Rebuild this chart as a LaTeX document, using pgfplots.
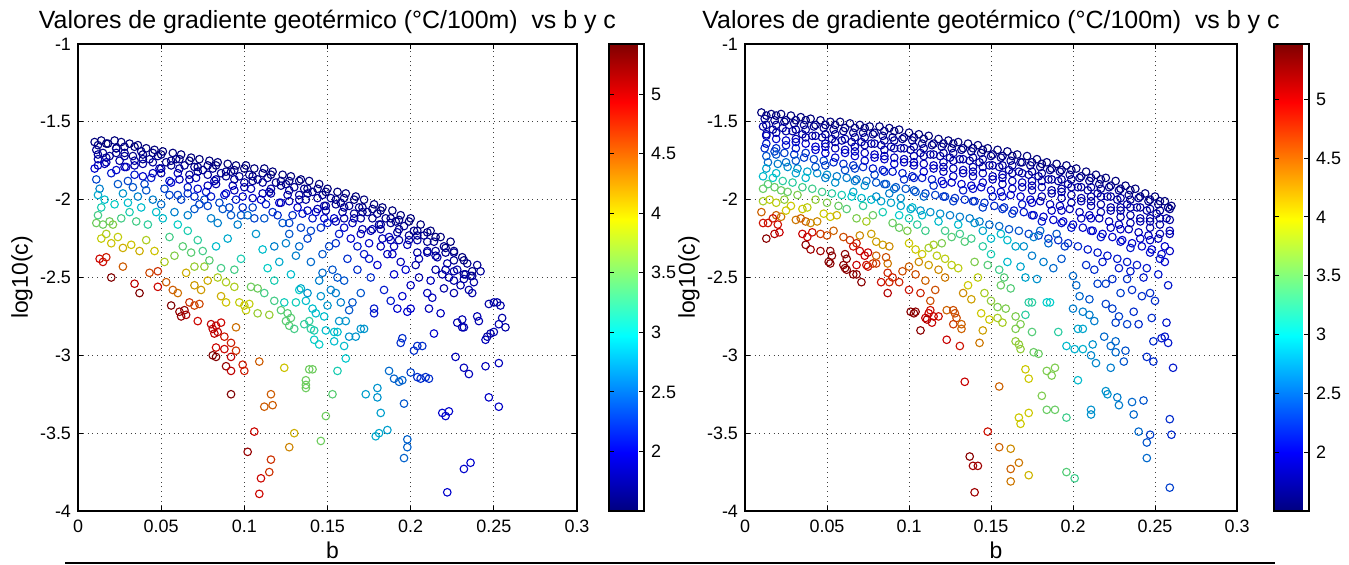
\documentclass[border=0pt]{standalone}
\usepackage{pgfplots}
\pgfplotsset{compat=1.18}
\usepackage{pgfplotstable}
\usepackage{fontspec}
\setmainfont{Liberation Sans}

% left panel: x = b, y = log10(c), g = gradient
\pgfplotstableread{
x y g
0.010 -1.63 1.6
0.011 -1.68 1.7
0.012 -1.74 1.8
0.010 -1.80 2.0
0.014 -1.62 1.6
0.015 -1.70 1.7
0.016 -1.77 1.9
0.018 -1.64 1.6
0.019 -1.72 1.7
0.020 -1.83 2.1
0.022 -1.62 1.6
0.023 -1.67 1.7
0.025 -1.75 1.8
0.026 -1.63 1.6
0.028 -1.70 1.7
0.029 -1.79 1.9
0.031 -1.64 1.6
0.033 -1.72 1.7
0.034 -1.84 2.1
0.036 -1.65 1.6
0.038 -1.69 1.7
0.039 -1.77 1.8
0.041 -1.67 1.6
0.043 -1.74 1.7
0.044 -1.86 2.1
0.046 -1.68 1.6
0.048 -1.72 1.7
0.049 -1.80 1.9
0.051 -1.69 1.6
0.053 -1.76 1.7
0.055 -1.88 2.1
0.057 -1.70 1.6
0.059 -1.74 1.7
0.060 -1.83 1.9
0.062 -1.71 1.6
0.064 -1.78 1.7
0.066 -1.92 2.1
0.068 -1.73 1.6
0.070 -1.79 1.7
0.071 -1.86 1.9
0.073 -1.74 1.6
0.075 -1.81 1.7
0.077 -1.95 2.1
0.079 -1.75 1.6
0.081 -1.80 1.7
0.082 -1.88 1.9
0.084 -1.76 1.6
0.086 -1.83 1.7
0.088 -1.97 2.1
0.090 -1.77 1.6
0.092 -1.82 1.7
0.093 -1.91 1.9
0.095 -1.78 1.6
0.097 -1.85 1.7
0.099 -1.98 2.0
0.101 -1.78 1.6
0.103 -1.84 1.7
0.104 -1.93 1.9
0.106 -1.80 1.6
0.108 -1.87 1.7
0.110 -2.00 2.0
0.112 -1.80 1.6
0.114 -1.86 1.7
0.115 -1.95 1.9
0.117 -1.82 1.6
0.119 -1.89 1.7
0.121 -2.02 2.0
0.123 -1.84 1.6
0.125 -1.90 1.7
0.126 -1.97 1.8
0.128 -1.85 1.6
0.130 -1.92 1.7
0.132 -2.05 2.0
0.134 -1.87 1.6
0.136 -1.93 1.7
0.137 -2.00 1.8
0.139 -1.88 1.6
0.141 -1.95 1.7
0.143 -2.08 2.0
0.145 -1.90 1.6
0.147 -1.97 1.7
0.148 -2.04 1.8
0.150 -1.93 1.6
0.152 -1.99 1.7
0.154 -2.12 2.0
0.156 -1.95 1.6
0.158 -2.02 1.7
0.159 -2.08 1.8
0.161 -1.96 1.6
0.163 -2.04 1.7
0.165 -2.15 1.9
0.167 -1.98 1.6
0.169 -2.05 1.7
0.170 -2.12 1.8
0.172 -2.00 1.6
0.174 -2.08 1.7
0.176 -2.20 1.9
0.178 -2.03 1.6
0.180 -2.09 1.7
0.181 -2.16 1.8
0.183 -2.05 1.6
0.185 -2.12 1.7
0.187 -2.24 1.9
0.189 -2.07 1.6
0.191 -2.14 1.7
0.192 -2.21 1.8
0.194 -2.10 1.6
0.196 -2.17 1.7
0.198 -2.29 1.9
0.200 -2.12 1.6
0.202 -2.20 1.7
0.204 -2.26 1.8
0.206 -2.16 1.6
0.208 -2.23 1.7
0.210 -2.33 1.8
0.212 -2.20 1.6
0.214 -2.27 1.7
0.216 -2.37 1.8
0.218 -2.24 1.6
0.220 -2.30 1.7
0.222 -2.41 1.8
0.224 -2.27 1.6
0.226 -2.34 1.7
0.228 -2.45 1.8
0.231 -2.37 1.6
0.234 -2.41 1.7
0.236 -2.49 1.8
0.240 -2.42 1.7
0.238 -2.53 1.8
0.012 -1.65 1.65
0.012 -1.71 1.75
0.012 -1.78 1.9
0.017 -1.64 1.6
0.017 -1.73 1.75
0.017 -1.76 1.85
0.023 -1.67 1.65
0.023 -1.70 1.7
0.023 -1.81 2.0
0.028 -1.66 1.65
0.028 -1.72 1.75
0.028 -1.79 1.9
0.034 -1.66 1.6
0.034 -1.75 1.75
0.034 -1.78 1.85
0.039 -1.71 1.65
0.039 -1.74 1.7
0.039 -1.85 2.0
0.045 -1.70 1.65
0.045 -1.76 1.75
0.045 -1.83 1.9
0.050 -1.71 1.6
0.050 -1.80 1.75
0.050 -1.83 1.85
0.056 -1.75 1.65
0.056 -1.78 1.7
0.056 -1.89 2.0
0.061 -1.74 1.65
0.061 -1.80 1.75
0.061 -1.87 1.9
0.067 -1.75 1.6
0.067 -1.84 1.75
0.067 -1.87 1.85
0.072 -1.79 1.65
0.072 -1.82 1.7
0.072 -1.93 2.0
0.078 -1.78 1.65
0.078 -1.84 1.75
0.078 -1.91 1.9
0.083 -1.78 1.6
0.083 -1.87 1.75
0.083 -1.90 1.85
0.089 -1.82 1.65
0.089 -1.85 1.7
0.089 -1.96 2.0
0.094 -1.81 1.65
0.094 -1.87 1.75
0.094 -1.94 1.9
0.100 -1.80 1.6
0.100 -1.89 1.75
0.100 -1.92 1.85
0.105 -1.85 1.65
0.105 -1.88 1.7
0.105 -1.99 1.95
0.111 -1.83 1.65
0.111 -1.89 1.75
0.111 -1.96 1.85
0.116 -1.84 1.6
0.116 -1.93 1.75
0.116 -1.96 1.8
0.122 -1.88 1.65
0.122 -1.91 1.7
0.122 -2.02 1.9
0.127 -1.88 1.65
0.127 -1.94 1.75
0.127 -2.01 1.85
0.133 -1.88 1.6
0.133 -1.97 1.75
0.133 -2.00 1.8
0.138 -1.93 1.65
0.138 -1.96 1.7
0.138 -2.07 1.9
0.144 -1.93 1.65
0.144 -1.99 1.75
0.144 -2.06 1.85
0.149 -1.95 1.6
0.149 -2.04 1.75
0.149 -2.07 1.8
0.155 -2.00 1.65
0.155 -2.03 1.7
0.155 -2.14 1.85
0.160 -1.99 1.65
0.160 -2.05 1.7
0.160 -2.12 1.8
0.166 -2.00 1.6
0.166 -2.09 1.7
0.166 -2.12 1.8
0.171 -2.05 1.65
0.171 -2.08 1.7
0.171 -2.19 1.85
0.177 -2.06 1.65
0.177 -2.12 1.7
0.177 -2.19 1.8
0.182 -2.07 1.6
0.182 -2.16 1.7
0.182 -2.19 1.8
0.188 -2.12 1.65
0.188 -2.15 1.7
0.188 -2.26 1.85
0.193 -2.13 1.65
0.193 -2.19 1.7
0.193 -2.26 1.8
0.199 -2.14 1.6
0.199 -2.23 1.7
0.199 -2.26 1.8
0.204 -2.20 1.65
0.204 -2.23 1.7
0.204 -2.34 1.8
0.210 -2.21 1.65
0.210 -2.27 1.7
0.210 -2.34 1.8
0.215 -2.24 1.6
0.215 -2.33 1.7
0.215 -2.36 1.8
0.221 -2.31 1.65
0.221 -2.34 1.7
0.221 -2.45 1.8
0.226 -2.33 1.65
0.226 -2.39 1.7
0.226 -2.46 1.8
0.232 -2.39 1.6
0.232 -2.48 1.7
0.232 -2.51 1.8
0.237 -2.46 1.65
0.237 -2.49 1.7
0.237 -2.60 1.8
0.030 -1.88 2.3
0.040 -1.90 2.3
0.052 -1.93 2.3
0.060 -1.97 2.3
0.070 -1.98 2.2
0.076 -2.00 2.3
0.085 -2.02 2.3
0.091 -2.05 2.3
0.098 -2.10 2.4
0.106 -2.12 2.3
0.113 -2.03 2.1
0.120 -2.10 2.2
0.127 -2.15 2.3
0.135 -2.09 2.1
0.140 -2.20 2.3
0.148 -2.12 2.0
0.155 -2.28 2.2
0.160 -2.18 2.0
0.168 -2.30 2.1
0.175 -2.38 2.1
0.183 -2.25 1.9
0.190 -2.30 1.9
0.197 -2.45 2.0
0.205 -2.38 1.85
0.212 -2.52 1.9
0.219 -2.48 1.8
0.226 -2.52 1.8
0.235 -2.58 1.8
0.242 -2.46 1.75
0.247 -2.67 1.8
0.250 -2.66 1.8
0.252 -2.66 1.8
0.254 -2.68 1.8
0.255 -2.76 1.8
0.257 -2.82 1.8
0.253 -2.80 1.85
0.250 -2.85 1.85
0.245 -2.90 1.9
0.011 -1.87 2.3
0.013 -1.93 2.6
0.012 -1.97 2.8
0.016 -2.00 2.9
0.014 -2.05 3.1
0.012 -2.10 3.3
0.011 -2.15 3.5
0.015 -2.16 3.5
0.019 -2.14 3.5
0.021 -2.16 3.6
0.024 -1.90 2.4
0.027 -1.96 2.7
0.022 -2.03 3.0
0.030 -2.02 2.9
0.033 -1.92 2.4
0.036 -1.98 2.6
0.031 -2.08 3.1
0.038 -2.05 2.9
0.041 -1.94 2.4
0.045 -2.00 2.6
0.047 -2.08 2.9
0.035 -2.14 3.3
0.042 -2.16 3.2
0.026 -2.12 3.3
0.017 -2.22 3.8
0.014 -2.25 3.9
0.020 -2.28 4.0
0.024 -2.24 3.9
0.027 -2.31 4.1
0.032 -2.29 4.0
0.037 -2.33 4.1
0.041 -2.26 3.8
0.046 -2.33 4.0
0.013 -2.38 4.9
0.015 -2.40 4.9
0.017 -2.37 4.8
0.020 -2.50 5.3
0.027 -2.43 4.5
0.034 -2.54 5.0
0.037 -2.60 5.3
0.043 -2.47 4.6
0.048 -2.46 4.7
0.048 -2.56 4.9
0.053 -2.53 4.5
0.057 -2.58 4.5
0.060 -2.60 4.4
0.056 -2.68 5.3
0.061 -2.72 5.2
0.062 -2.75 5.2
0.064 -2.71 5.2
0.065 -2.74 5.1
0.067 -2.66 4.7
0.070 -2.68 4.6
0.073 -2.67 4.6
0.072 -2.78 4.9
0.065 -2.47 4.1
0.070 -2.55 4.2
0.074 -2.58 4.2
0.078 -2.52 4.1
0.070 -2.43 3.7
0.076 -2.43 3.7
0.052 -2.40 3.8
0.058 -2.36 3.6
0.063 -2.30 3.4
0.055 -2.24 3.3
0.060 -2.16 3.0
0.051 -2.12 2.9
0.066 -2.20 3.1
0.072 -2.26 3.2
0.068 -2.34 3.4
0.075 -2.33 3.3
0.079 -2.39 3.4
0.084 -2.50 3.8
0.089 -2.53 3.8
0.094 -2.56 3.8
0.086 -2.62 4.1
0.089 -2.66 4.0
0.097 -2.66 3.9
0.100 -2.68 4.0
0.101 -2.71 3.9
0.103 -2.67 3.9
0.108 -2.73 3.7
0.115 -2.74 3.7
0.104 -2.56 3.5
0.108 -2.57 3.5
0.094 -2.45 3.3
0.086 -2.44 3.3
0.098 -2.38 3.1
0.083 -2.30 2.9
0.090 -2.25 2.8
0.096 -2.16 2.6
0.080 -2.12 2.6
0.087 -2.06 2.4
0.073 -2.03 2.3
0.062 -2.00 2.3
0.055 -1.97 2.3
0.050 -2.03 2.5
0.058 -2.08 2.6
0.066 -2.10 2.6
0.070 -2.06 2.4
0.078 -2.04 2.3
0.084 -2.15 2.6
0.092 -2.10 2.4
0.099 -2.05 2.2
0.066 -1.96 2.2
0.080 -1.98 2.1
0.095 -2.00 2.1
0.102 -2.10 2.5
0.107 -2.22 2.7
0.111 -2.32 2.9
0.114 -2.44 3.0
0.118 -2.52 3.1
0.112 -2.60 3.3
0.118 -2.65 3.3
0.121 -2.40 2.8
0.125 -2.28 2.6
0.123 -2.15 2.4
0.128 -2.48 2.9
0.131 -2.36 2.6
0.133 -2.58 3.0
0.105 -2.05 2.3
0.112 -2.12 2.4
0.117 -2.08 2.2
0.129 -2.10 2.2
0.134 -2.18 2.3
0.127 -2.22 2.4
0.118 -2.30 2.6
0.133 -2.30 2.5
0.141 -2.12 2.1
0.150 -2.15 2.1
0.157 -2.22 2.1
0.147 -2.35 2.4
0.170 -2.22 1.9
0.175 -2.28 2.0
0.182 -2.30 1.9
0.189 -2.35 1.95
0.124 -2.66 3.05
0.131 -2.66 3.05
0.122 -2.71 3.4
0.126 -2.73 3.4
0.128 -2.76 3.4
0.125 -2.78 3.4
0.127 -2.81 3.4
0.130 -2.83 3.3
0.137 -2.65 2.9
0.141 -2.70 2.9
0.143 -2.73 2.9
0.136 -2.80 3.2
0.139 -2.78 3.2
0.140 -2.83 3.2
0.142 -2.84 3.1
0.142 -2.90 3.0
0.145 -2.93 3.0
0.148 -2.75 2.9
0.149 -2.84 2.9
0.134 -2.57 2.8
0.138 -2.60 2.7
0.146 -2.62 2.7
0.150 -2.68 2.7
0.152 -2.58 2.6
0.147 -2.47 2.5
0.156 -2.50 2.4
0.158 -2.66 2.6
0.138 -2.25 2.3
0.140 -2.40 2.5
0.145 -2.52 2.6
0.146 -2.18 2.2
0.151 -2.30 2.3
0.153 -2.45 2.4
0.155 -2.60 2.6
0.157 -2.78 2.7
0.161 -2.78 2.7
0.163 -2.71 2.4
0.165 -2.66 2.4
0.160 -2.52 2.4
0.162 -2.38 2.2
0.164 -2.25 2.0
0.168 -2.45 2.2
0.170 -2.60 2.4
0.172 -2.35 2.1
0.176 -2.50 2.2
0.178 -2.70 2.1
0.178 -2.73 2.1
0.180 -2.42 2.0
0.184 -2.58 2.1
0.186 -2.35 1.9
0.190 -2.48 2.0
0.188 -2.65 2.1
0.192 -2.70 2.0
0.195 -2.62 2.0
0.194 -2.40 1.9
0.198 -2.72 2.0
0.200 -2.70 2.0
0.200 -2.55 1.9
0.203 -2.42 1.8
0.205 -2.50 1.8
0.210 -2.60 1.9
0.211 -2.70 1.9
0.213 -2.63 1.9
0.215 -2.45 1.8
0.218 -2.73 1.9
0.220 -2.57 1.8
0.223 -2.50 1.8
0.226 -2.60 1.8
0.228 -2.79 1.85
0.230 -2.55 1.8
0.231 -2.77 1.85
0.231 -2.82 1.85
0.233 -2.48 1.75
0.240 -2.75 1.85
0.241 -2.78 1.85
0.246 -2.88 1.8
0.248 -2.86 1.8
0.232 -2.82 1.85
0.214 -2.86 2.0
0.163 -2.88 2.7
0.167 -2.88 2.7
0.170 -2.83 2.7
0.172 -2.83 2.7
0.154 -2.85 2.9
0.156 -2.85 2.9
0.154 -2.91 2.9
0.160 -2.94 2.9
0.161 -3.02 2.95
0.156 -3.10 3.1
0.194 -2.92 2.2
0.195 -2.89 2.2
0.202 -2.97 2.2
0.207 -2.94 2.2
0.204 -2.94 2.2
0.227 -3.01 1.9
0.187 -3.10 2.5
0.190 -3.15 2.45
0.193 -3.17 2.45
0.195 -3.16 2.45
0.200 -3.11 2.3
0.204 -3.14 2.2
0.206 -3.15 2.2
0.209 -3.14 2.2
0.211 -3.15 2.2
0.232 -3.08 1.9
0.235 -3.12 1.9
0.245 -3.07 1.9
0.253 -3.05 1.9
0.247 -3.27 1.95
0.253 -3.33 1.95
0.153 -3.25 3.4
0.173 -3.25 2.75
0.180 -3.21 2.7
0.180 -3.27 2.7
0.196 -3.31 2.4
0.182 -3.37 2.75
0.149 -3.39 3.5
0.219 -3.37 2.0
0.223 -3.36 2.0
0.221 -3.39 2.0
0.186 -3.48 2.75
0.181 -3.50 2.8
0.179 -3.52 2.8
0.146 -3.55 3.5
0.198 -3.54 2.45
0.198 -3.59 2.45
0.196 -3.66 2.45
0.236 -3.69 2.0
0.232 -3.73 2.0
0.222 -3.88 2.0
0.080 -2.80 5.0
0.081 -2.83 5.0
0.083 -2.81 5.0
0.084 -2.85 5.0
0.086 -2.79 4.9
0.082 -2.86 5.0
0.088 -2.88 4.8
0.095 -2.82 4.4
0.092 -2.92 4.8
0.083 -2.95 4.9
0.088 -2.96 4.9
0.095 -2.97 4.7
0.081 -3.00 5.3
0.083 -3.01 5.3
0.092 -3.01 5.0
0.089 -3.07 5.2
0.092 -3.10 5.0
0.099 -3.06 4.8
0.100 -3.10 4.8
0.109 -3.04 4.5
0.124 -3.08 4.0
0.139 -3.09 3.5
0.141 -3.09 3.5
0.137 -3.16 3.5
0.137 -3.19 3.5
0.137 -3.21 3.5
0.092 -3.25 5.3
0.112 -3.33 4.5
0.116 -3.25 4.5
0.117 -3.32 4.5
0.106 -3.49 4.9
0.130 -3.50 4.1
0.127 -3.59 4.3
0.102 -3.62 5.2
0.116 -3.67 4.7
0.115 -3.75 4.7
0.110 -3.79 4.9
0.109 -3.89 4.9
}\leftdata

% right panel
\pgfplotstableread{
x y g
0.010 -1.44 1.6
0.012 -1.48 1.7
0.011 -1.53 1.8
0.013 -1.59 1.9
0.012 -1.67 2.2
0.014 -1.76 2.5
0.011 -1.85 2.9
0.016 -1.45 1.6
0.018 -1.49 1.7
0.017 -1.55 1.8
0.019 -1.61 2.0
0.018 -1.69 2.3
0.020 -1.77 2.6
0.017 -1.86 3.0
0.022 -1.45 1.6
0.024 -1.50 1.7
0.023 -1.54 1.8
0.025 -1.62 2.0
0.024 -1.70 2.3
0.026 -1.79 2.7
0.023 -1.88 3.2
0.028 -1.46 1.6
0.030 -1.51 1.7
0.029 -1.56 1.8
0.031 -1.63 2.0
0.030 -1.71 2.3
0.032 -1.80 2.7
0.029 -1.89 3.2
0.034 -1.47 1.6
0.036 -1.52 1.7
0.035 -1.58 1.8
0.037 -1.64 2.0
0.036 -1.73 2.3
0.038 -1.82 2.8
0.035 -1.92 3.3
0.040 -1.48 1.6
0.042 -1.53 1.7
0.041 -1.59 1.8
0.043 -1.66 2.0
0.042 -1.74 2.3
0.044 -1.83 2.7
0.041 -1.93 3.3
0.046 -1.49 1.6
0.048 -1.54 1.7
0.047 -1.60 1.8
0.049 -1.66 2.0
0.048 -1.75 2.3
0.050 -1.84 2.7
0.047 -1.95 3.3
0.052 -1.50 1.6
0.054 -1.55 1.7
0.053 -1.61 1.8
0.055 -1.67 1.9
0.054 -1.76 2.2
0.056 -1.85 2.6
0.053 -1.96 3.2
0.058 -1.50 1.6
0.060 -1.56 1.7
0.059 -1.62 1.8
0.061 -1.68 1.9
0.060 -1.77 2.2
0.062 -1.86 2.6
0.059 -1.97 3.1
0.064 -1.51 1.6
0.066 -1.57 1.7
0.065 -1.63 1.8
0.067 -1.69 1.9
0.066 -1.78 2.2
0.068 -1.87 2.5
0.065 -1.98 3.0
0.070 -1.52 1.6
0.072 -1.57 1.7
0.071 -1.63 1.8
0.073 -1.70 1.9
0.072 -1.79 2.2
0.074 -1.88 2.5
0.071 -1.99 2.9
0.076 -1.53 1.6
0.078 -1.58 1.7
0.077 -1.64 1.8
0.079 -1.71 1.9
0.078 -1.80 2.1
0.080 -1.89 2.4
0.077 -2.00 2.9
0.082 -1.53 1.6
0.084 -1.59 1.7
0.083 -1.65 1.8
0.085 -1.72 1.9
0.084 -1.81 2.1
0.086 -1.90 2.4
0.083 -2.01 2.8
0.088 -1.54 1.6
0.090 -1.60 1.7
0.089 -1.66 1.8
0.091 -1.73 1.9
0.090 -1.82 2.1
0.092 -1.92 2.4
0.089 -2.02 2.8
0.094 -1.55 1.6
0.096 -1.61 1.7
0.095 -1.67 1.8
0.097 -1.74 1.9
0.096 -1.83 2.1
0.098 -1.93 2.4
0.095 -2.04 2.8
0.100 -1.57 1.6
0.102 -1.62 1.7
0.101 -1.68 1.8
0.103 -1.76 1.9
0.102 -1.85 2.1
0.104 -1.95 2.4
0.101 -2.06 2.8
0.106 -1.58 1.6
0.108 -1.64 1.7
0.107 -1.70 1.8
0.109 -1.77 1.9
0.108 -1.86 2.1
0.110 -1.96 2.3
0.107 -2.07 2.7
0.112 -1.59 1.6
0.114 -1.65 1.7
0.113 -1.71 1.8
0.115 -1.78 1.9
0.114 -1.87 2.1
0.116 -1.97 2.3
0.113 -2.08 2.7
0.118 -1.61 1.6
0.120 -1.66 1.7
0.119 -1.72 1.8
0.121 -1.79 1.9
0.120 -1.88 2.0
0.122 -1.98 2.3
0.119 -2.09 2.7
0.124 -1.62 1.6
0.126 -1.67 1.7
0.125 -1.73 1.8
0.127 -1.80 1.9
0.126 -1.89 2.0
0.128 -1.99 2.2
0.125 -2.10 2.6
0.130 -1.63 1.6
0.132 -1.68 1.7
0.131 -1.74 1.8
0.133 -1.81 1.9
0.132 -1.90 2.0
0.134 -2.00 2.2
0.131 -2.11 2.6
0.136 -1.64 1.6
0.138 -1.69 1.7
0.137 -1.75 1.8
0.139 -1.82 1.9
0.138 -1.91 2.0
0.140 -2.01 2.2
0.137 -2.12 2.6
0.142 -1.65 1.6
0.144 -1.70 1.7
0.143 -1.76 1.8
0.145 -1.83 1.9
0.144 -1.92 2.0
0.146 -2.02 2.2
0.143 -2.14 2.6
0.148 -1.67 1.6
0.150 -1.72 1.7
0.149 -1.78 1.8
0.151 -1.85 1.9
0.150 -1.94 2.0
0.152 -2.04 2.2
0.149 -2.16 2.5
0.154 -1.68 1.6
0.156 -1.73 1.7
0.155 -1.79 1.8
0.157 -1.86 1.9
0.156 -1.95 2.0
0.158 -2.05 2.2
0.155 -2.17 2.5
0.160 -1.69 1.6
0.162 -1.75 1.7
0.161 -1.81 1.8
0.163 -1.88 1.9
0.162 -1.97 2.0
0.164 -2.07 2.1
0.161 -2.19 2.4
0.166 -1.71 1.6
0.168 -1.76 1.7
0.167 -1.82 1.8
0.169 -1.89 1.9
0.168 -1.98 2.0
0.170 -2.08 2.1
0.167 -2.20 2.4
0.172 -1.72 1.6
0.174 -1.78 1.7
0.173 -1.84 1.8
0.175 -1.91 1.9
0.174 -2.00 2.0
0.176 -2.10 2.1
0.173 -2.22 2.3
0.178 -1.74 1.6
0.180 -1.79 1.7
0.179 -1.85 1.8
0.181 -1.92 1.9
0.180 -2.01 1.9
0.182 -2.11 2.0
0.179 -2.23 2.3
0.184 -1.76 1.6
0.186 -1.81 1.7
0.185 -1.87 1.8
0.187 -1.94 1.8
0.186 -2.03 1.9
0.188 -2.13 2.0
0.185 -2.25 2.2
0.190 -1.77 1.6
0.192 -1.82 1.7
0.191 -1.88 1.8
0.193 -1.95 1.8
0.192 -2.04 1.9
0.194 -2.14 2.0
0.191 -2.26 2.2
0.196 -1.78 1.6
0.198 -1.84 1.7
0.197 -1.90 1.8
0.199 -1.97 1.8
0.198 -2.06 1.9
0.200 -2.16 2.0
0.197 -2.28 2.2
0.202 -1.80 1.6
0.204 -1.86 1.7
0.203 -1.92 1.8
0.205 -1.99 1.8
0.204 -2.08 1.9
0.206 -2.18 2.0
0.203 -2.30 2.2
0.208 -1.82 1.6
0.210 -1.88 1.7
0.209 -1.94 1.8
0.211 -2.01 1.8
0.210 -2.10 1.9
0.212 -2.20 2.0
0.209 -2.32 2.1
0.214 -1.84 1.6
0.216 -1.90 1.7
0.215 -1.96 1.8
0.217 -2.03 1.8
0.216 -2.12 1.9
0.218 -2.22 2.0
0.215 -2.34 2.1
0.220 -1.86 1.6
0.222 -1.92 1.7
0.221 -1.98 1.8
0.223 -2.05 1.8
0.222 -2.14 1.9
0.224 -2.24 2.0
0.221 -2.36 2.1
0.226 -1.88 1.6
0.228 -1.94 1.7
0.227 -2.00 1.8
0.229 -2.07 1.8
0.228 -2.16 1.9
0.230 -2.26 2.0
0.227 -2.38 2.1
0.232 -1.91 1.6
0.234 -1.97 1.7
0.233 -2.03 1.8
0.235 -2.10 1.8
0.234 -2.19 1.9
0.236 -2.28 2.0
0.233 -2.40 2.1
0.238 -1.93 1.6
0.240 -1.99 1.7
0.239 -2.05 1.8
0.241 -2.12 1.8
0.240 -2.21 1.9
0.242 -2.30 2.0
0.239 -2.42 2.1
0.244 -1.96 1.6
0.246 -2.01 1.7
0.245 -2.07 1.8
0.247 -2.14 1.8
0.246 -2.23 1.9
0.248 -2.32 2.0
0.245 -2.44 2.1
0.250 -1.98 1.6
0.252 -2.03 1.7
0.251 -2.09 1.8
0.253 -2.16 1.8
0.252 -2.25 1.9
0.254 -2.35 2.0
0.256 -2.01 1.6
0.258 -2.05 1.7
0.257 -2.12 1.8
0.259 -2.20 1.9
0.256 -2.30 2.0
0.260 -2.04 1.6
0.013 -1.46 1.65
0.013 -1.52 1.75
0.013 -1.58 1.85
0.013 -1.64 2.1
0.013 -1.72 2.4
0.013 -1.80 2.8
0.019 -1.46 1.6
0.019 -1.52 1.75
0.019 -1.57 1.8
0.019 -1.67 2.2
0.019 -1.71 2.4
0.019 -1.83 2.9
0.025 -1.49 1.65
0.025 -1.56 1.8
0.025 -1.65 2.1
0.025 -1.76 2.5
0.031 -1.49 1.65
0.031 -1.55 1.75
0.031 -1.61 1.85
0.031 -1.67 2.1
0.031 -1.75 2.4
0.031 -1.83 2.8
0.037 -1.49 1.6
0.037 -1.55 1.75
0.037 -1.60 1.8
0.037 -1.70 2.2
0.037 -1.86 2.9
0.043 -1.52 1.65
0.043 -1.59 1.8
0.043 -1.68 2.0
0.043 -1.79 2.4
0.049 -1.52 1.65
0.049 -1.58 1.75
0.049 -1.64 1.85
0.049 -1.70 2.0
0.049 -1.78 2.3
0.049 -1.86 2.6
0.055 -1.52 1.6
0.055 -1.58 1.75
0.055 -1.63 1.8
0.055 -1.73 2.05
0.055 -1.89 2.7
0.061 -1.54 1.65
0.061 -1.61 1.8
0.061 -1.70 2.0
0.061 -1.81 2.35
0.067 -1.54 1.65
0.067 -1.60 1.75
0.067 -1.66 1.85
0.067 -1.72 2.0
0.067 -1.80 2.3
0.067 -1.88 2.6
0.073 -1.54 1.6
0.073 -1.60 1.75
0.073 -1.65 1.8
0.073 -1.75 2.05
0.073 -1.91 2.7
0.079 -1.57 1.65
0.079 -1.64 1.8
0.079 -1.73 2.0
0.079 -1.84 2.3
0.085 -1.56 1.65
0.085 -1.62 1.75
0.085 -1.68 1.85
0.085 -1.74 1.95
0.085 -1.82 2.15
0.085 -1.90 2.4
0.091 -1.56 1.6
0.091 -1.62 1.75
0.091 -1.67 1.8
0.091 -1.77 2.0
0.091 -1.93 2.5
0.097 -1.60 1.65
0.097 -1.67 1.8
0.097 -1.76 1.95
0.097 -1.87 2.2
0.103 -1.60 1.65
0.103 -1.66 1.75
0.103 -1.72 1.85
0.103 -1.78 1.95
0.103 -1.86 2.15
0.103 -1.94 2.4
0.109 -1.61 1.6
0.109 -1.67 1.75
0.109 -1.72 1.8
0.109 -1.82 2.0
0.109 -1.98 2.5
0.115 -1.64 1.65
0.115 -1.71 1.8
0.115 -1.80 1.95
0.115 -1.91 2.2
0.121 -1.64 1.65
0.121 -1.70 1.75
0.121 -1.76 1.85
0.121 -1.82 1.9
0.121 -1.90 2.05
0.121 -1.98 2.25
0.127 -1.64 1.6
0.127 -1.70 1.75
0.127 -1.75 1.8
0.127 -1.85 1.95
0.127 -2.01 2.3
0.133 -1.67 1.65
0.133 -1.74 1.8
0.133 -1.83 1.9
0.133 -1.94 2.1
0.139 -1.67 1.65
0.139 -1.73 1.75
0.139 -1.79 1.85
0.139 -1.85 1.9
0.139 -1.93 2.05
0.139 -2.01 2.25
0.145 -1.68 1.6
0.145 -1.74 1.75
0.145 -1.79 1.8
0.145 -1.89 1.95
0.145 -2.05 2.3
0.151 -1.71 1.65
0.151 -1.78 1.8
0.151 -1.87 1.9
0.151 -1.98 2.1
0.157 -1.72 1.65
0.157 -1.78 1.75
0.157 -1.84 1.85
0.157 -1.90 1.9
0.157 -1.98 2.05
0.157 -2.06 2.25
0.163 -1.72 1.6
0.163 -1.78 1.75
0.163 -1.83 1.8
0.163 -1.93 1.95
0.163 -2.09 2.3
0.169 -1.76 1.65
0.169 -1.83 1.8
0.169 -1.92 1.9
0.169 -2.03 2.1
0.175 -1.76 1.65
0.175 -1.82 1.75
0.175 -1.88 1.85
0.175 -1.94 1.85
0.175 -2.02 1.95
0.175 -2.10 2.05
0.181 -1.77 1.6
0.181 -1.83 1.7
0.181 -1.88 1.8
0.181 -1.98 1.85
0.181 -2.14 2.1
0.187 -1.80 1.65
0.187 -1.87 1.75
0.187 -1.96 1.85
0.187 -2.07 1.95
0.193 -1.81 1.65
0.193 -1.87 1.75
0.193 -1.93 1.8
0.193 -1.99 1.85
0.193 -2.07 1.95
0.193 -2.15 2.05
0.199 -1.81 1.6
0.199 -1.87 1.7
0.199 -1.92 1.8
0.199 -2.02 1.85
0.199 -2.18 2.1
0.205 -1.85 1.65
0.205 -1.92 1.75
0.205 -2.01 1.85
0.205 -2.12 1.95
0.211 -1.86 1.65
0.211 -1.92 1.75
0.211 -1.98 1.8
0.211 -2.04 1.85
0.211 -2.12 1.95
0.211 -2.20 2.05
0.217 -1.87 1.6
0.217 -1.93 1.7
0.217 -1.98 1.8
0.217 -2.08 1.85
0.217 -2.24 2.1
0.223 -1.91 1.65
0.223 -1.98 1.75
0.223 -2.07 1.85
0.223 -2.18 1.95
0.229 -1.93 1.65
0.229 -1.99 1.75
0.229 -2.05 1.8
0.229 -2.11 1.85
0.229 -2.19 1.95
0.229 -2.27 2.05
0.235 -1.94 1.6
0.235 -2.00 1.7
0.235 -2.05 1.8
0.235 -2.15 1.85
0.235 -2.31 2.1
0.241 -1.98 1.65
0.241 -2.05 1.75
0.241 -2.14 1.85
0.241 -2.25 1.95
0.247 -2.00 1.65
0.247 -2.06 1.75
0.247 -2.12 1.8
0.247 -2.18 1.85
0.247 -2.26 1.95
0.247 -2.34 2.05
0.253 -2.01 1.6
0.253 -2.07 1.7
0.253 -2.12 1.8
0.253 -2.22 1.85
0.253 -2.38 2.1
0.259 -2.06 1.65
0.259 -2.13 1.75
0.259 -2.22 1.85
0.259 -2.33 1.95
0.011 -1.93 3.5
0.014 -1.90 3.4
0.018 -1.92 3.5
0.022 -1.94 3.5
0.011 -2.01 3.8
0.015 -2.00 3.9
0.019 -2.02 3.9
0.024 -2.00 3.7
0.010 -2.08 4.5
0.019 -2.10 4.5
0.022 -2.11 4.4
0.025 -2.07 4.0
0.028 -2.04 4.0
0.011 -2.15 4.9
0.014 -2.15 4.9
0.017 -2.12 4.9
0.020 -2.16 4.9
0.013 -2.25 5.3
0.018 -2.22 5.1
0.021 -2.21 5.0
0.031 -2.13 4.4
0.034 -2.12 4.5
0.037 -2.14 4.5
0.035 -2.22 5.0
0.038 -2.24 5.0
0.041 -2.21 4.9
0.037 -2.29 5.3
0.040 -2.32 5.2
0.046 -2.33 5.2
0.046 -2.22 4.7
0.050 -2.23 4.6
0.054 -2.20 4.5
0.040 -2.15 4.3
0.044 -2.14 4.3
0.035 -2.06 4.0
0.038 -2.05 3.9
0.048 -2.09 4.0
0.052 -2.11 4.0
0.056 -2.10 4.1
0.032 -1.97 3.6
0.043 -2.00 3.7
0.050 -2.02 3.6
0.057 -2.04 3.5
0.062 -2.06 3.4
0.026 -1.95 3.5
0.060 -2.24 4.6
0.064 -2.26 4.7
0.066 -2.30 4.9
0.068 -2.28 4.8
0.070 -2.33 5.0
0.073 -2.36 5.0
0.075 -2.34 5.0
0.052 -2.33 5.3
0.053 -2.36 5.3
0.061 -2.35 5.3
0.062 -2.38 5.3
0.051 -2.40 5.3
0.052 -2.41 5.3
0.060 -2.42 5.3
0.061 -2.44 5.3
0.062 -2.45 5.3
0.066 -2.48 5.3
0.068 -2.48 5.3
0.071 -2.53 5.3
0.068 -2.42 5.0
0.074 -2.42 4.9
0.075 -2.43 4.9
0.078 -2.41 4.7
0.080 -2.41 4.7
0.087 -2.41 4.4
0.083 -2.53 4.9
0.087 -2.47 4.8
0.088 -2.53 4.8
0.090 -2.50 4.8
0.087 -2.60 5.1
0.070 -2.23 4.3
0.077 -2.22 4.2
0.080 -2.27 4.2
0.084 -2.29 4.2
0.088 -2.30 4.3
0.080 -2.36 4.5
0.086 -2.37 4.6
0.074 -2.14 3.8
0.068 -2.12 3.6
0.078 -2.10 3.5
0.090 -2.15 3.5
0.094 -2.18 3.5
0.099 -2.20 3.6
0.100 -2.28 4.0
0.104 -2.32 4.0
0.108 -2.35 4.0
0.112 -2.31 3.8
0.115 -2.29 3.8
0.100 -2.12 3.1
0.105 -2.16 3.2
0.110 -2.20 3.3
0.102 -2.05 2.9
0.108 -2.10 2.9
0.084 -2.08 3.1
0.094 -2.10 3.0
0.072 -2.04 3.2
0.066 -1.95 2.8
0.080 -1.98 2.7
0.088 -1.96 2.6
0.095 -1.99 2.7
0.118 -2.14 2.9
0.122 -2.20 3.3
0.126 -2.24 3.4
0.131 -2.22 3.3
0.134 -2.27 3.4
0.138 -2.25 3.3
0.120 -2.28 3.6
0.117 -2.36 3.9
0.122 -2.38 3.9
0.126 -2.42 3.9
0.130 -2.44 3.9
0.118 -2.45 4.3
0.122 -2.50 4.4
0.112 -2.42 4.2
0.106 -2.40 4.3
0.100 -2.43 4.5
0.096 -2.46 4.6
0.104 -2.48 4.6
0.110 -2.52 4.5
0.094 -2.53 4.8
0.100 -2.58 4.9
0.107 -2.60 4.8
0.116 -2.58 4.6
0.113 -2.65 4.6
0.101 -2.72 5.3
0.103 -2.73 5.3
0.104 -2.72 5.3
0.107 -2.84 5.3
0.110 -2.76 5.0
0.112 -2.73 5.0
0.114 -2.79 5.0
0.113 -2.71 4.9
0.111 -2.77 5.1
0.115 -2.75 5.0
0.118 -2.75 4.9
0.123 -2.71 4.5
0.127 -2.71 4.6
0.128 -2.73 4.6
0.129 -2.76 4.6
0.127 -2.80 4.7
0.132 -2.80 4.5
0.132 -2.83 4.5
0.123 -2.90 5.0
0.131 -2.94 4.9
0.143 -2.92 4.4
0.145 -2.84 4.2
0.144 -2.73 4.0
0.149 -2.77 4.0
0.154 -2.76 3.8
0.157 -2.79 3.8
0.154 -2.69 3.6
0.159 -2.70 3.6
0.165 -2.75 3.6
0.168 -2.80 3.6
0.165 -2.83 3.6
0.165 -2.91 3.7
0.167 -2.93 3.7
0.168 -2.96 3.7
0.176 -2.98 3.5
0.179 -2.99 3.5
0.175 -2.85 3.4
0.171 -2.74 3.2
0.173 -2.66 3.2
0.175 -2.66 3.2
0.184 -2.66 3.0
0.186 -2.66 3.0
0.191 -2.85 3.2
0.196 -2.94 2.9
0.171 -3.09 4.0
0.173 -3.15 4.0
0.184 -3.10 3.6
0.187 -3.13 3.6
0.189 -3.08 3.6
0.181 -3.26 3.6
0.184 -3.35 3.5
0.189 -3.35 3.5
0.196 -3.40 3.3
0.155 -3.20 4.5
0.134 -3.17 5.0
0.167 -3.40 4.0
0.173 -3.37 4.0
0.168 -3.44 4.0
0.148 -3.49 4.9
0.155 -3.59 4.5
0.162 -3.60 4.3
0.137 -3.65 5.3
0.139 -3.71 5.2
0.142 -3.71 5.2
0.167 -3.69 4.4
0.162 -3.73 4.5
0.173 -3.77 4.1
0.162 -3.81 4.4
0.140 -3.88 5.2
0.196 -3.75 3.4
0.201 -3.79 3.3
0.203 -3.16 2.9
0.220 -3.23 2.7
0.221 -3.25 2.7
0.211 -3.35 2.7
0.211 -3.38 2.7
0.227 -3.27 2.6
0.228 -3.32 2.6
0.236 -3.30 2.5
0.243 -3.29 2.4
0.237 -3.38 2.5
0.259 -3.41 2.2
0.240 -3.49 2.5
0.247 -3.51 2.3
0.260 -3.51 2.2
0.245 -3.56 2.4
0.245 -3.66 2.5
0.259 -3.85 2.3
0.203 -2.83 2.8
0.206 -2.83 2.8
0.201 -2.96 2.85
0.206 -2.96 2.85
0.212 -2.93 2.7
0.211 -3.00 2.65
0.214 -3.05 2.65
0.206 -2.72 2.6
0.210 -2.74 2.6
0.213 -2.78 2.6
0.219 -2.88 2.5
0.223 -2.94 2.5
0.226 -2.98 2.5
0.232 -2.97 2.4
0.226 -2.91 2.5
0.231 -3.04 2.4
0.223 -3.08 2.6
0.249 -2.91 2.2
0.254 -2.89 2.1
0.256 -2.88 2.1
0.258 -2.92 2.1
0.245 -3.01 2.2
0.249 -3.04 2.2
0.261 -3.08 2.1
0.226 -2.79 2.3
0.233 -2.80 2.3
0.240 -2.80 2.2
0.248 -2.76 2.2
0.257 -2.79 2.1
0.237 -2.72 2.2
0.220 -2.67 2.3
0.224 -2.70 2.3
0.228 -2.75 2.3
0.215 -2.54 2.3
0.220 -2.54 2.3
0.224 -2.51 2.2
0.233 -2.51 2.2
0.229 -2.60 2.3
0.236 -2.58 2.2
0.242 -2.62 2.2
0.247 -2.60 2.2
0.250 -2.65 2.2
0.210 -2.64 2.4
0.200 -2.49 2.5
0.202 -2.55 2.5
0.204 -2.62 2.5
0.200 -2.70 2.6
0.156 -2.22 2.9
0.160 -2.26 2.9
0.165 -2.30 2.8
0.170 -2.30 2.7
0.176 -2.24 2.6
0.180 -2.20 2.5
0.185 -2.28 2.5
0.190 -2.22 2.4
0.195 -2.30 2.3
0.175 -2.36 2.6
0.182 -2.40 2.6
0.168 -2.43 2.8
0.188 -2.44 2.5
0.160 -2.40 2.9
0.171 -2.50 2.8
0.178 -2.51 2.7
0.193 -2.38 2.4
0.155 -2.45 3.3
0.158 -2.50 3.4
0.156 -2.55 3.5
0.162 -2.57 3.4
0.145 -2.30 3.2
0.150 -2.35 3.1
0.148 -2.42 3.4
0.140 -2.40 3.6
0.142 -2.50 3.9
0.136 -2.55 4.0
0.146 -2.60 3.8
0.150 -2.65 3.7
0.138 -2.64 4.2
0.133 -2.60 4.3
0.208 -2.42 2.2
0.213 -2.45 2.2
0.218 -2.40 2.1
0.228 -2.44 2.1
0.235 -2.46 2.1
0.243 -2.50 2.1
0.252 -2.48 2.1
0.256 -2.40 2.0
0.258 -2.55 2.1
0.145 -2.20 2.8
0.140 -2.15 2.7
0.150 -2.25 2.9
0.130 -2.16 2.9
}\rightdata

\pgfplotsset{
  geo/.style={
    scale only axis, height=233.5bp,
    xmin=0, xmax=0.3, ymin=-4, ymax=-1,
    xtick={0,0.05,0.1,0.15,0.2,0.25,0.3},
    xticklabels={0,0.05,0.1,0.15,0.2,0.25,0.3},
    ytick={-4,-3.5,-3,-2.5,-2,-1.5,-1},
    yticklabels={-4,-3.5,-3,-2.5,-2,-1.5,-1},
    tick label style={font=\fontsize{9}{10}\selectfont},
    xticklabel style={yshift=-1bp},
    grid=major,
    grid style={dotted, black!75, line width=0.5pt},
    tick align=inside, major tick length=2.5bp,
    tick style={black, line width=0.5pt},
    axis line style={black, line width=0.6pt},
    colormap/jet,
    title={Valores de gradiente geotérmico (°C/100m)\ \ vs b y c},
    title style={font=\fontsize{12.5}{14}\selectfont, at={(axis description cs:0.5,1)}, anchor=base, yshift=2bp},
    xlabel={b},
    xlabel style={font=\fontsize{11.5}{13}\selectfont, at={(axis description cs:0.51,0)}, anchor=center, yshift=-19.5bp},
    ylabel={log10(c)},
    ylabel style={font=\fontsize{11.5}{13}\selectfont, at={(axis description cs:0,0.5)}, anchor=center, yshift=28bp},
    colorbar,
  },
  cbar/.style={
    colorbar style={
      at={(parent axis.north east)}, anchor=north west, xshift=#1,
      scale only axis, width=17.5bp, height=233.5bp,
      ytick={2,2.5,3,3.5,4,4.5,5},
      yticklabels={2,2.5,3,3.5,4,4.5,5},
      yticklabel pos=right, ytick pos=both,
      tick align=inside, major tick length=2.5bp,
      tick style={black, line width=0.5pt},
      axis line style={black, line width=0.6pt},
      yticklabel style={font=\fontsize{9}{10}\selectfont},
    },
  },
  pts/.style={scatter, only marks, mark=o, mark size=1.9bp,
    mark options={line width=0.55bp}, scatter src=explicit},
}

\begin{document}
\begin{tikzpicture}
\useasboundingbox (0,0) rectangle (674.5bp,282.5bp);

\begin{axis}[geo, width=249.5bp, at={(39bp,27bp)}, anchor=south west,
  point meta min=1.5, point meta max=5.42, cbar=7.5bp]
\addplot[pts] table[x=x, y=y, meta=g] {\leftdata};
\end{axis}

\begin{axis}[geo, width=246bp, at={(372.5bp,27bp)}, anchor=south west,
  point meta min=1.5, point meta max=5.47, cbar=10bp]
\addplot[pts] table[x=x, y=y, meta=g] {\rightdata};
\end{axis}

\draw[line width=0.8bp] (32.5bp,1bp) -- (637.5bp,1bp);
\end{tikzpicture}
\end{document}
